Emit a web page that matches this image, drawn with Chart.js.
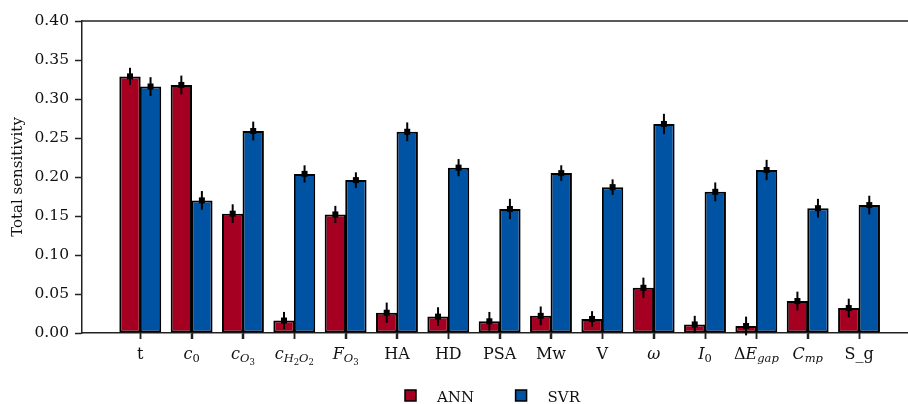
<!DOCTYPE html>
<html>
<head>
<meta charset="utf-8">
<script src="https://cdn.jsdelivr.net/npm/chart.js@4.4.1/dist/chart.umd.min.js"></script>
<style>
  html, body { margin: 0; padding: 0; background: #fff; }
  #wrap { width: 908px; height: 404px; position: relative; }
</style>
</head>
<body>
<div id="wrap"><canvas id="sensChart"></canvas></div>
<script>
// categories ($...$ = math mode, _ = subscript)
var categories = ["t", "$c_0$", "$c_{O_3}$", "$c_{H_2O_2}$", "$F_{O_3}$", "HA", "HD", "PSA", "Mw", "V",
  "$ω$", "$I_0$", "$ΔE_{gap}$", "$C_{mp}$", "S_g"];
var seriesNames = ["ANN", "SVR"];
var annValues = [0.329, 0.318, 0.153, 0.016, 0.152, 0.026, 0.021, 0.015, 0.022, 0.018, 0.058, 0.011, 0.009, 0.041, 0.032];
var svrValues = [0.316, 0.170, 0.259, 0.204, 0.196, 0.258, 0.212, 0.159, 0.205, 0.187, 0.268, 0.181, 0.209, 0.160, 0.164];
var annErrors = [0.011, 0.012, 0.012, 0.011, 0.011, 0.013, 0.012, 0.012, 0.012, 0.010, 0.013, 0.011, 0.012, 0.012, 0.012];
var svrErrors = [0.012, 0.012, 0.012, 0.011, 0.010, 0.012, 0.011, 0.013, 0.010, 0.010, 0.013, 0.012, 0.013, 0.012, 0.012];
var yTicks = [0, 0.05, 0.1, 0.15, 0.2, 0.25, 0.3, 0.35, 0.4];

var FONT = "DejaVu Serif";
var AXIS_COLOR = "#222";

// split a label into runs of {t, level, italic}
function parseRuns(str, level, math, out) {
  var i = 0;
  while (i < str.length) {
    var ch = str[i];
    if (math && ch === "_") {
      var sub;
      if (str[i + 1] === "{") {
        var depth = 1, j = i + 2;
        while (depth > 0 && j < str.length) {
          if (str[j] === "{") depth++;
          else if (str[j] === "}") depth--;
          j++;
        }
        sub = str.slice(i + 2, j - 1);
        i = j;
      } else {
        sub = str[i + 1];
        i += 2;
      }
      parseRuns(sub, level + 1, math, out);
    } else {
      out.push({ t: ch, level: level, italic: math && /[A-Za-zω]/.test(ch) });
      i++;
    }
  }
  return out;
}

function labelRuns(label) {
  var math = label.charAt(0) === "$";
  var body = math ? label.slice(1, -1) : label;
  return parseRuns(body, 0, math, []);
}

var LEVEL_SIZE = [16, 11.5, 8.5];
var LEVEL_SHIFT = [0, 3.5, 6];

var errorBarPlugin = {
  id: "errorBars",
  afterDatasetsDraw: function (chart) {
    var ctx = chart.ctx;
    var yScale = chart.scales.y;
    var errs = [annErrors, svrErrors];
    ctx.save();
    chart.data.datasets.forEach(function (ds, di) {
      var meta = chart.getDatasetMeta(di);
      meta.data.forEach(function (bar, i) {
        var v = ds.data[i].y;
        var e = errs[di][i];
        var x = bar.x;
        ctx.strokeStyle = "#000";
        ctx.lineWidth = 2;
        ctx.beginPath();
        ctx.moveTo(x, yScale.getPixelForValue(v - e));
        ctx.lineTo(x, yScale.getPixelForValue(v + e));
        ctx.stroke();
        ctx.fillStyle = "#000";
        ctx.fillRect(x - 3, bar.y - 3, 6, 6);
      });
    });
    ctx.restore();
  },
};

var decorPlugin = {
  id: "decor",
  afterDraw: function (chart) {
    var ctx = chart.ctx;
    var area = chart.chartArea;
    var xScale = chart.scales.x;
    ctx.save();
    // top spine
    ctx.strokeStyle = AXIS_COLOR;
    ctx.lineWidth = 1.5;
    ctx.beginPath();
    ctx.moveTo(area.left, area.top);
    ctx.lineTo(area.right, area.top);
    ctx.stroke();

    // x tick marks
    categories.forEach(function (label, i) {
      var px = Math.round(xScale.getPixelForValue(i)) + 0.5;
      ctx.beginPath();
      ctx.moveTo(px, area.bottom);
      ctx.lineTo(px, area.bottom + 6);
      ctx.stroke();
    });

    // x labels with subscripts
    ctx.fillStyle = "#111";
    ctx.textBaseline = "alphabetic";
    ctx.textAlign = "left";
    var baseY = area.bottom + 25.5;
    categories.forEach(function (label, i) {
      var runs = labelRuns(label);
      var total = 0;
      runs.forEach(function (r) {
        ctx.font = (r.italic ? "italic " : "") + LEVEL_SIZE[Math.min(r.level, 2)] + "px '" + FONT + "'";
        r.w = ctx.measureText(r.t).width;
        total += r.w;
      });
      var x = xScale.getPixelForValue(i) - total / 2;
      runs.forEach(function (r) {
        var lv = Math.min(r.level, 2);
        ctx.font = (r.italic ? "italic " : "") + LEVEL_SIZE[lv] + "px '" + FONT + "'";
        ctx.fillText(r.t, x, baseY + LEVEL_SHIFT[lv]);
        x += r.w;
      });
    });

    // legend
    ctx.font = "15px '" + FONT + "'";
    var lx = 405;
    var boxTop = 390;
    chart.data.datasets.forEach(function (ds) {
      ctx.fillStyle = ds.backgroundColor;
      ctx.fillRect(lx, boxTop, 11, 11);
      ctx.strokeStyle = "#000";
      ctx.lineWidth = 1.5;
      ctx.strokeRect(lx, boxTop, 11, 11);
      ctx.fillStyle = "#111";
      ctx.fillText(ds.label, lx + 32, boxTop + 11.5);
      lx += 32 + ctx.measureText(ds.label).width + 41.5;
    });
    ctx.restore();
  },
};

var ctx = document.getElementById("sensChart").getContext("2d");
var sensChart = new Chart(ctx, {
  type: "bar",
  data: {
    datasets: [
      {
        label: seriesNames[0],
        data: annValues.map(function (v, i) { return { x: i, y: v }; }),
        backgroundColor: "#a50022",
        borderColor: "#000",
        borderWidth: 2,
        borderSkipped: false,
      },
      {
        label: seriesNames[1],
        data: svrValues.map(function (v, i) { return { x: i, y: v }; }),
        backgroundColor: "#0052a3",
        borderColor: "#000",
        borderWidth: 2,
        borderSkipped: false,
      },
    ],
  },
  options: {
    responsive: true,
    maintainAspectRatio: false,
    animation: false,
    categoryPercentage: 0.8,
    barPercentage: 1.04,
    layout: { padding: { top: 21, right: 0, bottom: 0, left: 0 } },
    plugins: {
      legend: { display: false },
      tooltip: { enabled: false },
    },
    scales: {
      x: {
        type: "linear",
        offset: false,
        min: -1.135,
        max: 14.954,
        afterBuildTicks: function (scale) {
          scale.ticks = categories.map(function (c, i) { return { value: i }; });
        },
        afterFit: function (scale) {
          scale.height = 71;
        },
        ticks: {
          callback: function () { return ""; },
          autoSkip: false,
          maxRotation: 0,
        },
        grid: {
          offset: false,
          drawOnChartArea: false,
          drawTicks: true,
          tickLength: 6,
          tickColor: AXIS_COLOR,
          tickWidth: 1.5,
        },
        border: { color: AXIS_COLOR, width: 1.5 },
      },
      y: {
        min: 0,
        max: 0.4,
        afterBuildTicks: function (scale) {
          scale.ticks = yTicks.map(function (v) { return { value: v }; });
        },
        afterFit: function (scale) {
          scale.width = 82;
        },
        ticks: {
          color: "#111",
          padding: 6,
          font: { family: FONT, size: 15.5 },
          callback: function (v) { return Number(v).toFixed(2); },
        },
        grid: {
          drawOnChartArea: false,
          drawTicks: true,
          tickLength: 7,
          tickColor: AXIS_COLOR,
          tickWidth: 1.5,
        },
        border: { color: AXIS_COLOR, width: 1.5 },
        title: {
          display: true,
          text: "Total sensitivity",
          color: "#111",
          font: { family: FONT, size: 15 },
          padding: { top: 9, bottom: 0 },
        },
      },
    },
  },
  plugins: [errorBarPlugin, decorPlugin],
});
</script>
</body>
</html>
